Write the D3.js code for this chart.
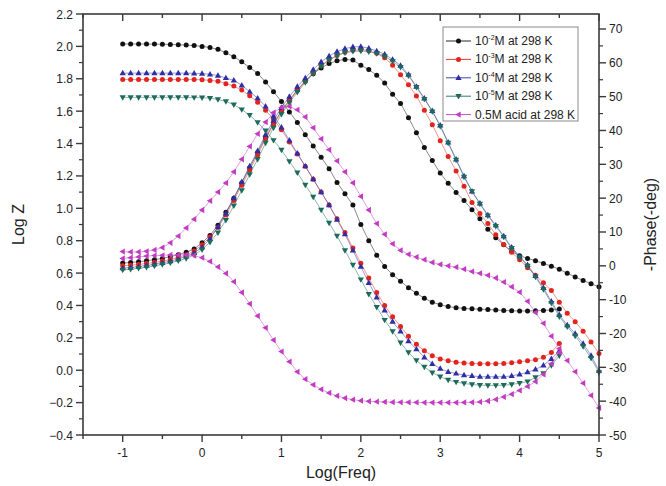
<!DOCTYPE html>
<html><head><meta charset="utf-8">
<script src="https://cdn.jsdelivr.net/npm/d3@7/dist/d3.min.js"></script>
<style>body{margin:0;background:#fff}svg{display:block}text{font-family:"Liberation Sans",Arial,sans-serif}</style>
</head><body>
<svg id="c" width="666" height="486"></svg>
<script>
// ---- data ----
const freqZ = [-1.0,-0.9,-0.8,-0.7,-0.6,-0.5,-0.4,-0.3,-0.2,-0.1,0.0,0.1,0.2,0.3,0.4,0.5,0.6,0.7,0.8,0.9,1.0,1.1,1.2,1.3,1.4,1.5,1.6,1.7,1.8,1.9,2.0,2.1,2.2,2.3,2.4,2.5,2.6,2.7,2.8,2.9,3.0,3.1,3.2,3.3,3.4,3.5,3.6,3.7,3.8,3.9,4.0,4.1,4.2,4.3,4.4,4.5];
const freqP = [-1.0,-0.9,-0.8,-0.7,-0.6,-0.5,-0.4,-0.3,-0.2,-0.1,0.0,0.1,0.2,0.3,0.4,0.5,0.6,0.7,0.8,0.9,1.0,1.1,1.2,1.3,1.4,1.5,1.6,1.7,1.8,1.9,2.0,2.1,2.2,2.3,2.4,2.5,2.6,2.7,2.8,2.9,3.0,3.1,3.2,3.3,3.4,3.5,3.6,3.7,3.8,3.9,4.0,4.1,4.2,4.3,4.4,4.5,4.6,4.7,4.8,4.9,5.0];

const logZ_2 = [2.015,2.015,2.015,2.014,2.014,2.013,2.012,2.010,2.008,2.005,2.0,1.993,1.982,1.96,1.936,1.905,1.87,1.833,1.78,1.72,1.66,1.595,1.53,1.455,1.385,1.315,1.245,1.16,1.09,1.02,0.90,0.80,0.71,0.64,0.59,0.55,0.51,0.475,0.445,0.42,0.405,0.393,0.386,0.382,0.379,0.377,0.375,0.372,0.369,0.367,0.366,0.366,0.367,0.369,0.372,0.378];
const logZ_3 = [1.795,1.795,1.795,1.795,1.795,1.795,1.795,1.795,1.795,1.795,1.794,1.79,1.785,1.77,1.755,1.73,1.695,1.655,1.605,1.55,1.485,1.41,1.335,1.26,1.18,1.10,1.02,0.935,0.85,0.755,0.66,0.57,0.48,0.40,0.33,0.27,0.21,0.16,0.12,0.09,0.07,0.058,0.05,0.045,0.042,0.04,0.04,0.04,0.042,0.046,0.052,0.058,0.065,0.08,0.11,0.165];
const logZ_4 = [1.835,1.835,1.835,1.835,1.835,1.835,1.835,1.835,1.835,1.834,1.832,1.828,1.82,1.805,1.79,1.76,1.72,1.68,1.63,1.57,1.50,1.42,1.34,1.26,1.18,1.10,1.02,0.93,0.84,0.74,0.64,0.54,0.45,0.37,0.30,0.24,0.18,0.13,0.08,0.04,0.01,-0.01,-0.02,-0.03,-0.035,-0.04,-0.04,-0.04,-0.04,-0.035,-0.025,-0.012,0.005,0.03,0.07,0.12];
const logZ_5 = [1.685,1.685,1.685,1.685,1.685,1.685,1.685,1.685,1.685,1.684,1.683,1.68,1.672,1.66,1.64,1.61,1.575,1.53,1.48,1.42,1.36,1.29,1.22,1.145,1.07,0.99,0.91,0.83,0.74,0.65,0.56,0.47,0.39,0.31,0.24,0.17,0.11,0.06,0.02,-0.015,-0.04,-0.06,-0.073,-0.082,-0.088,-0.092,-0.094,-0.094,-0.092,-0.088,-0.08,-0.07,-0.045,-0.02,0.03,0.09];
const logZ_acid = [0.69,0.695,0.70,0.705,0.708,0.71,0.712,0.713,0.712,0.708,0.695,0.672,0.638,0.598,0.547,0.48,0.41,0.335,0.262,0.186,0.115,0.053,-0.01,-0.055,-0.09,-0.118,-0.14,-0.158,-0.172,-0.182,-0.188,-0.192,-0.194,-0.196,-0.197,-0.198,-0.198,-0.199,-0.2,-0.2,-0.2,-0.2,-0.2,-0.199,-0.198,-0.196,-0.19,-0.18,-0.165,-0.148,-0.125,-0.1,-0.07,-0.025,0.04,0.11];

const phase_2 = [0.8,1.0,1.2,1.5,1.8,2.2,2.7,3.3,4.0,5.0,6.8,9.0,12.0,15.8,20,24.5,29,33.5,38,42,45.8,49,52,54.6,56.8,58.5,59.8,60.6,61,60.8,59.3,58,56.3,54,50.7,48,43.8,39.3,35,31.1,27.4,24.4,21.7,19.3,16.6,13.9,10.8,8.3,6.2,4.2,3.0,2.2,1.5,0.7,-0.1,-1.0,-2.2,-3.3,-4.3,-5.3,-6.2];
const phase_3 = [0.0,0.2,0.4,0.7,1.0,1.4,1.9,2.5,3.2,4.4,6.2,8.5,11.3,15.0,19.3,23.8,28.3,32.8,37.5,41.8,45.5,48.8,51.8,54.5,57,59.2,60.9,62.2,63.1,63.7,63.9,63.6,62.8,61.5,59.3,56.5,53.5,50.2,46,41.7,37,32.3,28,23.5,18.7,15.5,12.5,9.2,6.3,4.0,1.8,-0.6,-2.8,-5.0,-7.3,-10.8,-14,-16.5,-19.3,-22.5,-25.9];
const phase_4 = [-0.7,-0.5,-0.2,0.1,0.5,0.9,1.4,2.0,2.8,3.8,5.5,8.0,11.5,15.5,20,24.8,29.5,34,38.8,43,46.8,50,53,55.5,58,60.3,62,63.3,64.2,64.7,64.8,64.3,63.5,62.5,61,59.2,56.5,53,49.5,45.8,41.5,36.5,31.5,26.5,22,18.5,15,12,8.8,5.5,2.8,0.3,-3,-6.5,-10.5,-14.5,-17.5,-20,-23,-26.5,-31];
const phase_5 = [-1.2,-1.0,-0.7,-0.4,0.0,0.4,0.9,1.5,2.2,3.2,4.8,7.0,9.8,13.5,17.8,22.3,27,31.5,36.3,40.8,44.8,48.2,51.3,54.2,56.8,59,60.8,62.1,63,63.4,63.5,63.3,62.8,61.9,60.5,58.7,56.2,52.8,49.3,45.6,41.3,36.3,31.3,26.3,22,18.3,14.8,11.7,8.5,5.2,2.5,0,-3.3,-7,-11,-15,-18,-20.7,-23.8,-27.3,-31.5];
const phase_acid = [4.2,4.1,4.1,4.3,4.7,5.4,6.8,8.8,11.2,13.8,16.5,19.2,21.8,24.5,27.8,31.5,35.3,39,42.5,45.3,46.8,47.1,46.1,44,40.8,37.5,34.3,31,27.8,24.5,20.5,16.5,12.5,9.3,6.5,4.6,3.4,2.6,1.8,1.0,0.4,0.0,-0.4,-1.0,-1.7,-2.2,-2.8,-3.6,-4.8,-6.2,-7.8,-10.5,-13.8,-17,-20.8,-24.5,-28,-31.3,-34.7,-38.3,-42];

const seriesLabels = [["10","-2","M at 298 K"],["10","-3","M at 298 K"],["10","-4","M at 298 K"],["10","-5","M at 298 K"],["0.5M acid at 298 K","",""]];
const xTicks = [-1,0,1,2,3,4,5];
const yLeftTicks = [2.2,2.0,1.8,1.6,1.4,1.2,1.0,0.8,0.6,0.4,0.2,0.0,-0.2,-0.4];
const yRightTicks = [70,60,50,40,30,20,10,0,-10,-20,-30,-40,-50];

// ---- styles ----
const colors = ["#111111","#e3241d","#2e2fa6","#1c6b5b","#c23cc2"];
const symbols = ["circle","circle","up","down","left"];
const zSets = [logZ_2,logZ_3,logZ_4,logZ_5,logZ_acid];
const pSets = [phase_2,phase_3,phase_4,phase_5,phase_acid];

const L=83,R=599,T=14,B=435;
const x = d3.scaleLinear().domain([-1.5,5]).range([L,R]);
const yL = d3.scaleLinear().domain([-0.4,2.2]).range([B,T]);
const yR = d3.scaleLinear().domain([-50,74.43]).range([B,T]);

const svg = d3.select("#c");
const axCol="#3a3a3a";

function marker(g, sym, cx, cy, col, s){
  s = s||1;
  if(sym==="circle"){
    g.append("circle").attr("cx",cx).attr("cy",cy).attr("r",2.5*s).attr("fill",col);
  } else {
    const a=3.3*s;
    let pts;
    if(sym==="up") pts=[[0,-a],[a*0.95,a*0.65],[-a*0.95,a*0.65]];
    else if(sym==="down") pts=[[0,a],[a*0.95,-a*0.65],[-a*0.95,-a*0.65]];
    else pts=[[-a,0],[a*0.65,-a*0.95],[a*0.65,a*0.95]];
    g.append("polygon").attr("points",pts.map(p=>[cx+p[0],cy+p[1]].join(",")).join(" ")).attr("fill",col);
  }
}

const plot = svg.append("g");
const line = (ys)=>d3.line().x(d=>x(d[0])).y(d=>ys(d[1]));

for(let i=0;i<5;i++){
  const zd = freqZ.map((f,j)=>[f,zSets[i][j]]);
  const pd = freqP.map((f,j)=>[f,pSets[i][j]]);
  plot.append("path").attr("d",line(yL)(zd)).attr("fill","none").attr("stroke",colors[i]).attr("stroke-width",0.7).attr("opacity",0.7);
  plot.append("path").attr("d",line(yR)(pd)).attr("fill","none").attr("stroke",colors[i]).attr("stroke-width",0.7).attr("opacity",0.7);
  const g = plot.append("g");
  zd.forEach(d=>marker(g,symbols[i],x(d[0]),yL(d[1]),colors[i]));
  pd.forEach(d=>marker(g,symbols[i],x(d[0]),yR(d[1]),colors[i]));
}

// ---- axes ----
const axG = svg.append("g");
axG.append("rect").attr("x",L).attr("y",T).attr("width",R-L).attr("height",B-T).attr("fill","none").attr("stroke",axCol).attr("stroke-width",1.6);

// bottom axis
const xMinor = d3.range(-1.5,5.01,0.5);
xMinor.forEach(v=>{
  const major = xTicks.includes(v);
  axG.append("line").attr("x1",x(v)).attr("x2",x(v)).attr("y1",B).attr("y2",B+(major?7:4)).attr("stroke",axCol).attr("stroke-width",1.4);
  axG.append("line").attr("x1",x(v)).attr("x2",x(v)).attr("y1",T).attr("y2",T+(major?7:4)).attr("stroke",axCol).attr("stroke-width",1.4);
});
xTicks.forEach(v=>{
  axG.append("text").attr("x",x(v)).attr("y",B+22).attr("text-anchor","middle").attr("font-size",12).attr("fill","#222").text(v);
});
// left axis
yLeftTicks.forEach(v=>{
  axG.append("line").attr("x1",L-7).attr("x2",L).attr("y1",yL(v)).attr("y2",yL(v)).attr("stroke",axCol).attr("stroke-width",1.4);
  axG.append("text").attr("x",L-10).attr("y",yL(v)+4.5).attr("text-anchor","end").attr("font-size",12).attr("fill","#222").text(d3.format(".1f")(v));
});
yLeftTicks.slice(0,-1).forEach(v=>{
  const m=yL(v-0.1);
  axG.append("line").attr("x1",L-4).attr("x2",L).attr("y1",m).attr("y2",m).attr("stroke",axCol).attr("stroke-width",1.2);
});
// right axis
yRightTicks.forEach(v=>{
  axG.append("line").attr("x1",R).attr("x2",R+7).attr("y1",yR(v)).attr("y2",yR(v)).attr("stroke",axCol).attr("stroke-width",1.4);
  axG.append("text").attr("x",R+10).attr("y",yR(v)+4.5).attr("text-anchor","start").attr("font-size",12).attr("fill","#222").text(v);
});
yRightTicks.forEach(v=>{
  const m=yR(v+5);
  if(v+5<=74) axG.append("line").attr("x1",R).attr("x2",R+4).attr("y1",m).attr("y2",m).attr("stroke",axCol).attr("stroke-width",1.2);
});

// titles
svg.append("text").attr("transform",`translate(24,${(T+B)/2}) rotate(-90)`).attr("text-anchor","middle").attr("font-size",16).attr("fill","#222").text("Log Z");
svg.append("text").attr("x",(L+R)/2).attr("y",478).attr("text-anchor","middle").attr("font-size",16).attr("fill","#222").text("Log(Freq)");
svg.append("text").attr("transform",`translate(656,${(T+B)/2}) rotate(-90)`).attr("text-anchor","middle").attr("font-size",16).attr("fill","#222").text("-Phase(-deg)");

// legend
const lg = svg.append("g");
lg.append("rect").attr("x",443).attr("y",27).attr("width",135).attr("height",94).attr("fill","#fff").attr("stroke","#8a8a8a").attr("stroke-width",1);
seriesLabels.forEach((lab,i)=>{
  const yy = 41 + i*18.4;
  lg.append("line").attr("x1",446).attr("x2",471).attr("y1",yy).attr("y2",yy).attr("stroke",colors[i]).attr("stroke-width",0.9);
  marker(lg,symbols[i],458.5,yy,colors[i]);
  const t = lg.append("text").attr("x",475).attr("y",yy+4).attr("font-size",12).attr("fill","#222");
  t.append("tspan").text(lab[0]);
  if(lab[1]){
    t.append("tspan").attr("dy",-5).attr("font-size",7).text(lab[1]);
    t.append("tspan").attr("dy",5).text(lab[2]);
  }
});
</script>
</body></html>
